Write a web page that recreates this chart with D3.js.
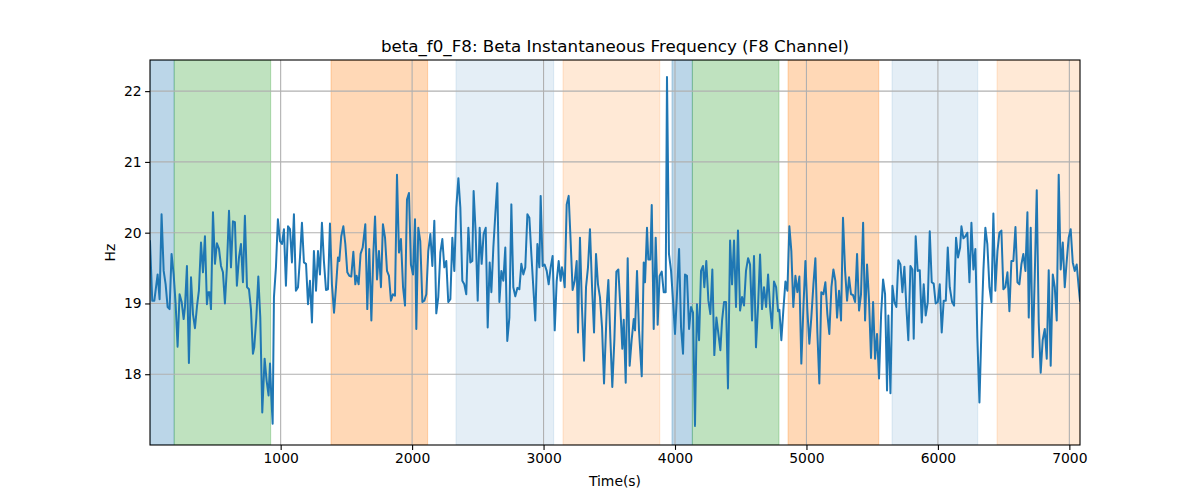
<!DOCTYPE html>
<html>
<head>
<meta charset="utf-8">
<script src="https://cdn.jsdelivr.net/npm/d3@7"></script>
<style>
  body { margin: 0; background: #fff; }
  svg { display: block; font-family: "DejaVu Sans", sans-serif; }
</style>
</head>
<body>
<svg id="chart" width="1200" height="500"></svg>
<script>
const title = "beta_f0_F8: Beta Instantaneous Frequency (F8 Channel)";
const xLabel = "Time(s)";
const yLabel = "Hz";
const xTicks = [1000, 2000, 3000, 4000, 5000, 6000, 7000];
const yTicks = [18, 19, 20, 21, 22];
const xDomain = [6, 7081];
const yDomain = [17.0, 22.44];

// shaded segments: start, end, kind
const bandStart = [6, 190, 1383, 2334, 3148, 3977, 4132, 4860, 5651, 6450];
const bandEnd   = [190, 924, 2118, 3077, 3884, 4132, 4791, 5550, 6303, 7081];
const bandKind  = ["blue", "green", "orange", "lightblue", "lightorange", "blue", "green", "orange", "lightblue", "lightorange"];

const times = [
6,23,39,64,79,94,110,125,140,155,170,186,201,216,231,247,262,272,287,302,318,333,348,363,378,394,409,424,439,449,460,470,485,500,515,531,546,561,576,591,607,622,637,652,667,683,698,713,728,744,759,774,789,799,815,830,845,860,
878,893,908,919,929,939,949,964,979,995,1010,1025,1040,1056,1071,1086,1101,1116,1132,1147,1162,1177,1193,1208,1223,1238,1253,1269,1284,1299,1314,1329,1345,1360,1375,1390,1406,1421,1436,1446,1461,1477,1492,1507,1522,1537,1553,1568,1578,1593,1608,1624,1644,1659,1674,1690,1705,
1718,1733,1748,1763,1778,1794,1809,1824,1839,1854,1870,1885,1900,1915,1931,1946,1961,1976,1991,2007,2022,2032,2047,2062,2078,2093,2108,2123,2139,2154,2169,2184,2199,2215,2230,2245,2260,2275,2291,2306,2321,2336,2352,2367,2382,2397,2412,2428,2443,2458,2468,2483,2499,2514,2529,2544,2560,2575,2590,
2603,2618,2633,2648,2664,2679,2694,2709,2724,2740,2755,2770,2785,2801,2816,2831,2846,2861,2877,2892,2907,2922,2937,2953,2968,2978,2993,3008,3024,3039,3054,3069,3085,3100,3115,3130,3140,3150,3161,3176,3191,3206,3221,3237,3252,3262,3277,3292,3308,3323,3338,3353,3369,3384,3399,3414,3429,3445,3460,
3483,3493,3508,3523,3539,3554,3569,3584,3599,3610,3625,3640,3655,3670,3686,3696,3711,3726,3747,3762,3772,3787,3797,3812,3823,3838,3853,3863,3868,3883,3899,3914,3929,3939,3954,3970,3985,4000,4015,4031,4046,4061,4076,4091,4107,4122,4137,4152,4167,4183,4198,4213,4223,4238,4254,4269,4284,4299,4315,4330,4345,
4358,4373,4388,4403,4419,4434,4449,4464,4479,4495,4510,4525,4540,4556,4571,4586,4601,4616,4632,4647,4662,4677,4693,4708,4723,4738,4753,4769,4784,4794,4809,4824,4840,4855,4870,4885,4900,4916,4931,4946,4961,4977,4992,5007,5022,5037,5053,5068,5083,5098,5113,5129,5144,5159,5174,5190,5205,5220,
5233,5248,5263,5278,5294,5309,5324,5339,5354,5370,5385,5400,5415,5431,5446,5461,5476,5491,5507,5522,5537,5552,5568,5583,5598,5613,5623,5639,5654,5669,5684,5699,5715,5730,5745,5760,5775,5791,5806,5816,5831,5846,5862,5877,5892,5907,5923,5938,5953,5968,5983,5999,6014,6029,6044,6060,6075,6090,
6108,6123,6138,6153,6169,6179,6194,6209,6224,6240,6255,6270,6285,6300,6316,6331,6346,6361,6376,6392,6407,6422,6437,6453,6468,6483,6498,6513,6529,6544,6559,6574,6590,6605,6620,6635,6650,6666,6681,6691,6706,6721,6737,6752,6767,6782,6797,6813,6828,6843,6858,6874,6889,6904,6919,6934,6950,6965,6980,6995,7010,7026,7041,7056,7071,7081
];

const values = [
19.88,19.04,19.04,19.41,19.06,20.26,19.46,19.27,18.95,18.92,19.70,19.41,18.99,18.39,19.13,19.02,18.78,18.95,19.53,18.16,19.37,18.85,18.65,18.95,19.18,19.86,19.44,19.95,18.99,19.16,19.16,18.92,20.29,19.56,19.85,19.77,19.53,19.44,19.00,19.51,20.31,19.51,20.16,20.15,19.25,19.65,19.84,19.30,20.24,19.23,19.20,18.92,18.29,18.38,18.80,19.38,18.80,17.46,
18.22,17.91,17.70,18.15,17.68,17.30,19.09,19.51,20.19,19.88,19.84,20.05,19.25,20.09,20.05,19.58,20.26,19.18,19.23,19.65,20.14,19.58,19.56,18.99,19.32,18.73,19.74,19.18,19.74,19.41,20.14,19.60,19.19,19.20,20.13,19.27,18.87,19.23,19.65,19.60,19.95,20.09,19.84,19.44,19.39,19.38,19.73,19.27,19.39,19.27,19.70,19.79,20.12,18.92,19.77,18.76,19.70,
20.23,19.34,19.74,19.23,20.12,19.93,19.46,19.39,19.04,19.13,19.11,20.82,19.72,19.91,19.23,18.97,20.47,20.56,19.55,19.41,20.19,18.64,20.07,19.88,19.02,19.04,19.13,19.74,19.98,19.53,20.17,18.86,19.09,19.72,19.91,19.51,19.60,19.02,19.06,19.93,19.46,20.35,20.77,20.35,19.32,19.27,19.13,20.07,19.58,19.60,20.59,20.02,19.04,20.07,19.56,19.98,20.07,18.66,19.58,
19.16,19.79,20.26,20.70,19.02,19.46,19.32,19.79,18.47,18.80,20.40,19.23,19.10,19.22,19.20,19.56,19.41,19.51,20.26,20.21,19.70,19.23,18.76,19.84,19.51,20.52,19.53,19.55,19.46,19.27,19.51,19.67,18.62,19.32,19.60,19.32,19.51,19.41,19.23,20.40,20.52,19.88,19.19,19.32,19.60,18.59,19.93,18.95,18.19,19.23,19.51,20.05,19.23,18.59,19.70,19.27,19.09,18.66,17.87,
19.04,19.33,18.52,17.82,18.50,19.45,19.48,18.95,18.36,18.77,17.88,19.64,18.12,18.48,18.78,18.62,19.46,18.62,17.97,19.58,19.30,20.07,19.62,19.62,20.39,18.64,19.93,19.32,18.70,19.39,19.45,19.16,19.16,22.20,19.70,19.46,19.04,18.57,19.13,19.77,18.66,18.29,19.41,19.39,18.64,18.95,18.87,17.27,18.99,18.48,19.46,19.53,19.23,19.60,19.04,18.85,19.48,18.27,18.80,18.57,18.34,
18.76,19.02,19.02,17.80,19.89,19.27,19.89,18.95,20.03,18.90,19.09,18.97,19.46,19.64,19.55,18.76,19.67,18.38,18.97,19.69,18.92,19.23,18.95,19.41,18.95,18.65,19.31,19.23,18.89,18.91,18.48,18.90,19.31,19.18,20.09,19.74,18.95,19.39,19.16,19.38,18.15,18.95,19.60,18.90,18.43,18.80,19.27,19.64,18.59,17.87,19.16,19.13,19.30,18.85,18.57,19.23,19.48,19.32,
18.80,19.18,18.76,20.21,19.46,19.04,19.37,19.13,19.12,19.02,19.70,18.90,19.13,20.14,18.76,19.55,19.04,18.23,19.02,18.22,18.57,17.94,18.85,19.34,19.13,17.77,18.83,17.73,19.25,19.02,18.95,19.61,19.55,19.16,19.52,18.95,18.48,19.53,19.48,18.50,19.95,19.46,19.47,18.73,19.27,18.83,19.02,20.02,19.30,19.28,19.00,19.02,19.27,18.59,19.04,19.04,19.79,19.23,
19.02,18.97,19.93,19.65,19.79,20.09,19.92,19.95,20.00,19.30,20.14,19.48,19.77,18.52,17.60,18.62,19.46,20.07,19.84,19.23,19.02,20.27,19.18,19.74,20.00,20.03,19.20,19.23,19.44,18.89,19.60,19.60,20.08,19.30,19.27,19.55,19.70,19.46,20.29,18.80,20.07,18.24,19.41,20.60,18.73,18.02,18.48,18.64,18.22,19.47,18.12,19.41,19.23,18.76,20.82,19.48,19.86,19.23,19.60,19.93,20.05,19.58,19.46,19.55,19.23,19.04
];

const bandColors = {
  blue: "rgba(31,119,180,0.3)",
  green: "rgba(44,160,44,0.3)",
  orange: "rgba(255,127,14,0.3)",
  lightblue: "rgba(31,119,180,0.12)",
  lightorange: "rgba(255,127,14,0.17)"
};

const margin = {left: 150, right: 120, top: 60, bottom: 55};
const W = 1200, H = 500;
const iw = W - margin.left - margin.right;
const ih = H - margin.top - margin.bottom;

const svg = d3.select("#chart");
const x = d3.scaleLinear().domain(xDomain).range([0, iw]);
const y = d3.scaleLinear().domain(yDomain).range([ih, 0]);

const g = svg.append("g").attr("transform", `translate(${margin.left},${margin.top})`);

svg.append("defs").append("clipPath").attr("id", "clip")
  .append("rect").attr("width", iw).attr("height", ih);

// bands
const bands = bandStart.map((s, i) => ({s, e: bandEnd[i], k: bandKind[i]}));
g.append("g").attr("clip-path", "url(#clip)")
  .selectAll("rect").data(bands).join("rect")
  .attr("x", d => x(d.s))
  .attr("width", d => x(d.e) - x(d.s))
  .attr("y", 0).attr("height", ih)
  .attr("fill", d => bandColors[d.k])
  .attr("stroke", d => bandColors[d.k])
  .attr("stroke-width", 1);

// grid
const grid = g.append("g");
grid.selectAll("line.gx").data(xTicks).join("line")
  .attr("x1", d => x(d)).attr("x2", d => x(d))
  .attr("y1", 0).attr("y2", ih)
  .attr("stroke", "#b0b0b0").attr("stroke-width", 1.1);
grid.selectAll("line.gy").data(yTicks).join("line")
  .attr("y1", d => y(d)).attr("y2", d => y(d))
  .attr("x1", 0).attr("x2", iw)
  .attr("stroke", "#b0b0b0").attr("stroke-width", 1.1);

// line
const pts = times.map((t, i) => [t, values[i]]);
g.append("path").attr("clip-path", "url(#clip)")
  .datum(pts)
  .attr("fill", "none")
  .attr("stroke", "#1f77b4")
  .attr("stroke-width", 2)
  .attr("stroke-linejoin", "round")
  .attr("stroke-linecap", "square")
  .attr("d", d3.line().x(d => x(d[0])).y(d => y(d[1])));

// axes
const xAxis = g.append("g").attr("transform", `translate(0,${ih})`)
  .call(d3.axisBottom(x).tickValues(xTicks).tickFormat(d3.format("d")).tickSize(4.9).tickPadding(3.5));
const yAxis = g.append("g")
  .call(d3.axisLeft(y).tickValues(yTicks).tickFormat(d3.format("d")).tickSize(4.9).tickPadding(3.5));
[xAxis, yAxis].forEach(a => {
  a.select(".domain").remove();
  a.selectAll("text").attr("font-size", 13.9).attr("fill", "#000").attr("font-family", "DejaVu Sans, sans-serif");
  a.selectAll("line").attr("stroke", "#000").attr("stroke-width", 1.1);
});

// frame
g.append("rect").attr("width", iw).attr("height", ih)
  .attr("fill", "none").attr("stroke", "#000").attr("stroke-width", 1.1);

// labels
svg.append("text").attr("x", margin.left + iw / 2).attr("y", 52)
  .attr("text-anchor", "middle").attr("font-size", 16.7).attr("fill", "#000").text(title);
svg.append("text").attr("x", margin.left + iw / 2).attr("y", 486)
  .attr("text-anchor", "middle").attr("font-size", 13.9).attr("fill", "#000").text(xLabel);
svg.append("text").attr("transform", `translate(115,${margin.top + ih / 2}) rotate(-90)`)
  .attr("text-anchor", "middle").attr("font-size", 13.9).attr("fill", "#000").text(yLabel);
</script>
</body>
</html>
